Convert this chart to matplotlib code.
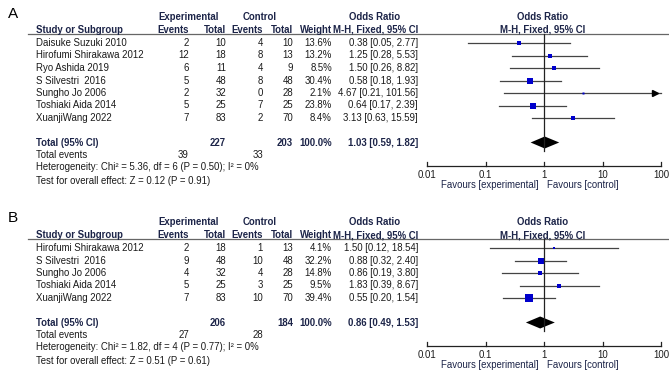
import matplotlib
matplotlib.use("Agg")
import matplotlib.pyplot as plt

plt.rcParams['font.family'] = ['Liberation Sans', 'DejaVu Sans']

# --- panel A data ---
a_studies = ["Daisuke Suzuki 2010", "Hirofumi Shirakawa 2012", "Ryo Ashida 2019",
             "S Silvestri  2016", "Sungho Jo 2006", "Toshiaki Aida 2014", "XuanjiWang 2022"]
a_exp_events = [2, 12, 6, 5, 2, 5, 7]
a_exp_total = [10, 18, 11, 48, 32, 25, 83]
a_ctl_events = [4, 8, 4, 8, 0, 7, 2]
a_ctl_total = [10, 13, 9, 48, 28, 25, 70]
a_weight = [13.6, 13.2, 8.5, 30.4, 2.1, 23.8, 8.4]
a_or = [0.38, 1.25, 1.50, 0.58, 4.67, 0.64, 3.13]
a_lo = [0.05, 0.28, 0.26, 0.18, 0.21, 0.17, 0.63]
a_hi = [2.77, 5.53, 8.82, 1.93, 101.56, 2.39, 15.59]
a_total = (1.03, 0.59, 1.82)
a_het = "Heterogeneity: Chi\u00b2 = 5.36, df = 6 (P = 0.50); I\u00b2 = 0%"
a_test = "Test for overall effect: Z = 0.12 (P = 0.91)"

# --- panel B data ---
b_studies = ["Hirofumi Shirakawa 2012", "S Silvestri  2016", "Sungho Jo 2006",
             "Toshiaki Aida 2014", "XuanjiWang 2022"]
b_exp_events = [2, 9, 4, 5, 7]
b_exp_total = [18, 48, 32, 25, 83]
b_ctl_events = [1, 10, 4, 3, 10]
b_ctl_total = [13, 48, 28, 25, 70]
b_weight = [4.1, 32.2, 14.8, 9.5, 39.4]
b_or = [1.50, 0.88, 0.86, 1.83, 0.55]
b_lo = [0.12, 0.32, 0.19, 0.39, 0.20]
b_hi = [18.54, 2.40, 3.80, 8.67, 1.54]
b_total = (0.86, 0.49, 1.53)
b_het = "Heterogeneity: Chi\u00b2 = 1.82, df = 4 (P = 0.77); I\u00b2 = 0%"
b_test = "Test for overall effect: Z = 0.51 (P = 0.61)"

ticks = [0.01, 0.1, 1, 10, 100]
tick_labels = ["0.01", "0.1", "1", "10", "100"]

W, H = 669, 376
FS = 6.9
HEAD = "#1c2448"
TXT = "#1a1a1a"
LINE = "#444444"
BLUE = "#0000cc"

fig = plt.figure(figsize=(W / 100, H / 100), dpi=100)
bg = fig.add_axes([0, 0, 1, 1])
bg.set_xlim(0, W)
bg.set_ylim(H, 0)
bg.axis("off")

x0, x1 = 427, 661  # pixel span of 0.01 .. 100
fa = fig.add_axes([x0 / W, 0, (x1 - x0) / W, 1])
fa.set_xscale("log")
fa.set_xlim(0.01, 100)
fa.set_ylim(H, 0)
fa.axis("off")

col_ee, col_et, col_ce, col_ct, col_w, col_or = 189, 226, 263, 293, 332, 418


def panel(top, label, studies, ee, et, ce, ct, w, orv, lo, hi, tot, het, test):
    bg.text(8, top - 3.5, label, fontsize=11, color="black", va="center", ha="left")
    h1, h2 = top, top + 13
    hb = dict(fontsize=FS, fontweight="bold", color=HEAD, va="center")
    bg.text(189, h1, "Experimental", ha="center", **hb)
    bg.text(260, h1, "Control", ha="center", **hb)
    bg.text(375, h1, "Odds Ratio", ha="center", **hb)
    bg.text(543, h1, "Odds Ratio", ha="center", **hb)
    bg.text(36, h2, "Study or Subgroup", ha="left", **hb)
    for x, s in [(col_ee, "Events"), (col_et, "Total"), (col_ce, "Events"),
                 (col_ct, "Total"), (col_w, "Weight"), (col_or, "M-H, Fixed, 95% CI")]:
        bg.text(x, h2, s, ha="right", **hb)
    bg.text(543, h2, "M-H, Fixed, 95% CI", ha="center", **hb)
    line_y = top + 17
    bg.plot([28, W], [line_y, line_y], color="#666666", lw=0.9)

    rt = dict(fontsize=FS, color=TXT, va="center")
    row0 = top + 26
    ys = [row0 + i * 12.5 for i in range(len(studies))]
    for i, y in enumerate(ys):
        bg.text(36, y, studies[i], ha="left", **rt)
        bg.text(col_ee, y, str(ee[i]), ha="right", **rt)
        bg.text(col_et, y, str(et[i]), ha="right", **rt)
        bg.text(col_ce, y, str(ce[i]), ha="right", **rt)
        bg.text(col_ct, y, str(ct[i]), ha="right", **rt)
        bg.text(col_w, y, f"{w[i]:.1f}%", ha="right", **rt)
        bg.text(col_or, y, f"{orv[i]:.2f} [{lo[i]:.2f}, {hi[i]:.2f}]", ha="right", **rt)
        # CI line
        fa.plot([lo[i], min(hi[i], 100)], [y, y], color=LINE, lw=0.9, clip_on=False)
        if hi[i] > 100:
            fa.plot([80], [y], marker=">", ms=4, color="black", clip_on=False)
        side = 1.1 * w[i] ** 0.5 + 0.4
        fa.plot([orv[i]], [y], marker="s", ms=side * 0.72, color=BLUE, mec=BLUE,
                mew=0, linestyle="none", clip_on=False)

    ty = ys[-1] + 24.5
    tb = dict(fontsize=FS, fontweight="bold", color=HEAD, va="center")
    bg.text(36, ty, "Total (95% CI)", ha="left", **tb)
    bg.text(col_et, ty, str(sum(et)), ha="right", **tb)
    bg.text(col_ct, ty, str(sum(ct)), ha="right", **tb)
    bg.text(col_w, ty, "100.0%", ha="right", **tb)
    bg.text(col_or, ty, f"{tot[0]:.2f} [{tot[1]:.2f}, {tot[2]:.2f}]", ha="right", **tb)
    bg.text(36, ty + 13, "Total events", ha="left", **rt)
    bg.text(col_ee, ty + 13, str(sum(ee)), ha="right", **rt)
    bg.text(col_ce, ty + 13, str(sum(ce)), ha="right", **rt)
    bg.text(36, ty + 25, het, ha="left", **rt)
    bg.text(36, ty + 38, test, ha="left", **rt)

    # diamond
    dh = 6
    fa.fill([tot[1], tot[0], tot[2], tot[0]], [ty, ty - dh, ty, ty + dh],
            color="black", lw=0, clip_on=False)
    # line of no effect
    fa.plot([1, 1], [line_y, ty + 8], color="#222222", lw=0.9, clip_on=False)

    # axis
    ay = ty + 23
    fa.plot([0.01, 100], [ay, ay], color="#222222", lw=0.9, clip_on=False)
    for t, tl in zip(ticks, tick_labels):
        fa.plot([t, t], [ay - 3.5, ay + 0.5], color="#222222", lw=0.9, clip_on=False)
        fa.text(t, ay + 9, tl, ha="center", va="center", fontsize=FS, color=TXT)
    fav = dict(fontsize=FS, color=HEAD, va="center")
    bg.text(539, ay + 19.5, "Favours [experimental]", ha="right", **fav)
    bg.text(547, ay + 19.5, "Favours [control]", ha="left", **fav)


panel(17, "A", a_studies, a_exp_events, a_exp_total, a_ctl_events, a_ctl_total,
      a_weight, a_or, a_lo, a_hi, a_total, a_het, a_test)
panel(222, "B", b_studies, b_exp_events, b_exp_total, b_ctl_events, b_ctl_total,
      b_weight, b_or, b_lo, b_hi, b_total, b_het, b_test)

fig.savefig("out.png", dpi=100, facecolor="white")
